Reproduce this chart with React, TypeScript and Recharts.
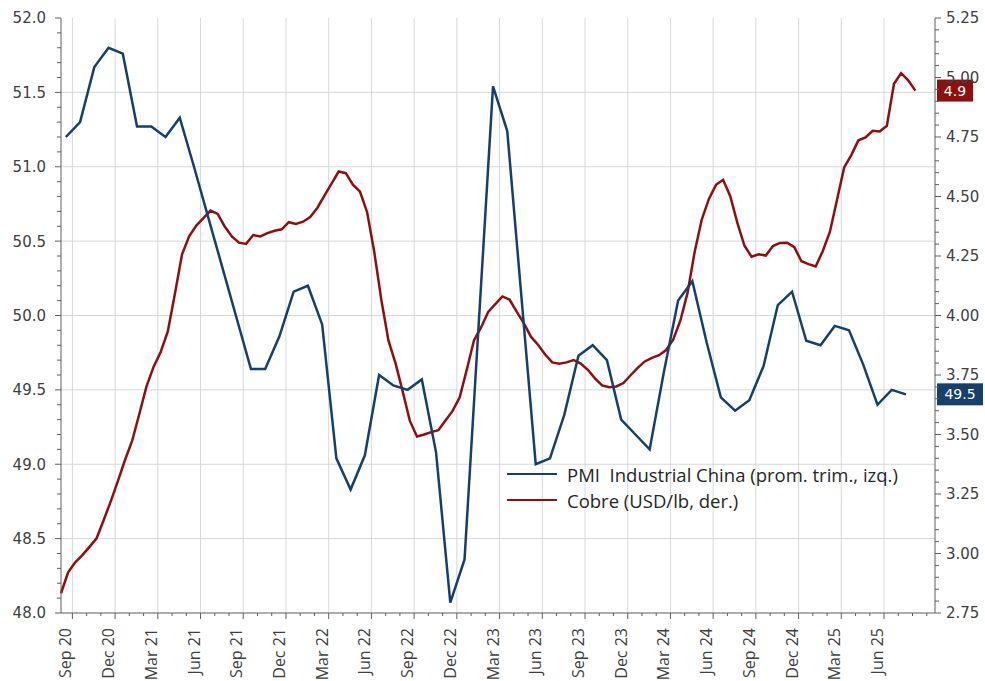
import React from 'react';
import { CartesianGrid, Legend, Line, LineChart, XAxis, YAxis } from 'recharts';

// x axis: months counted from Sep 2020
const tickLabels = [
  'Sep 20', 'Dec 20', 'Mar 21', 'Jun 21', 'Sep 21', 'Dec 21', 'Mar 22', 'Jun 22', 'Sep 22', 'Dec 22',
  'Mar 23', 'Jun 23', 'Sep 23', 'Dec 23', 'Mar 24', 'Jun 24', 'Sep 24', 'Dec 24', 'Mar 25', 'Jun 25',
];

// PMI industrial China, 3-month average, monthly
const pmiStart = -0.46;
const pmiValues = [
  51.2, 51.3, 51.67, 51.8, 51.76, 51.27, 51.27, 51.2, 51.33, 51.0,
  50.66, 50.32, 49.98, 49.64, 49.64, 49.86, 50.16, 50.2, 49.94, 49.04,
  48.83, 49.06, 49.6, 49.53, 49.5, 49.57, 49.08, 48.07, 48.36, 49.95,
  51.54, 51.24, 50.12, 49.0, 49.04, 49.33, 49.73, 49.8, 49.7, 49.3,
  49.2, 49.1, 49.62, 50.1, 50.23, 49.82, 49.45, 49.36, 49.43, 49.66,
  50.07, 50.16, 49.83, 49.8, 49.93, 49.9, 49.67, 49.4, 49.5, 49.47,
];

// Copper USD/lb, semi-monthly
const copperStart = -0.8;
const copperStep = 0.5;
const copperValues = [
  2.833, 2.921, 2.963, 2.993, 3.028, 3.064, 3.141, 3.22, 3.305, 3.394,
  3.474, 3.586, 3.701, 3.784, 3.847, 3.933, 4.091, 4.257, 4.333, 4.378,
  4.409, 4.441, 4.427, 4.374, 4.332, 4.306, 4.301, 4.338, 4.332, 4.346,
  4.356, 4.362, 4.392, 4.385, 4.394, 4.414, 4.452, 4.504, 4.554, 4.605,
  4.598, 4.55, 4.52, 4.434, 4.267, 4.064, 3.894, 3.798, 3.68, 3.557,
  3.492, 3.5, 3.51, 3.518, 3.559, 3.599, 3.656, 3.773, 3.895, 3.95,
  4.015, 4.048, 4.08, 4.067, 4.016, 3.968, 3.911, 3.877, 3.836, 3.803,
  3.797, 3.803, 3.813, 3.798, 3.772, 3.736, 3.706, 3.699, 3.702, 3.716,
  3.749, 3.78, 3.807, 3.822, 3.833, 3.855, 3.899, 3.979, 4.095, 4.267,
  4.403, 4.49, 4.549, 4.57, 4.501, 4.389, 4.293, 4.247, 4.257, 4.252,
  4.292, 4.305, 4.306, 4.287, 4.228, 4.216, 4.206, 4.271, 4.352, 4.486,
  4.622, 4.674, 4.736, 4.748, 4.776, 4.773, 4.797, 4.974, 5.018, 4.988,
  4.945,
];

const leftMajor = [48, 48.5, 49, 49.5, 50, 50.5, 51, 51.5, 52];
const rightMajor = [2.75, 3, 3.25, 3.5, 3.75, 4, 4.25, 4.5, 4.75, 5, 5.25];

const pmiName = 'PMI  Industrial China (prom. trim., izq.)';
const copperName = 'Cobre (USD/lb, der.)';

const BLUE = '#173f6b';
const RED = '#8c1010';
const AXIS = '#5f5f5f';
const GRID = '#d4d9dd';
const TEXT = '#404040';

const pmiData = pmiValues.map((v, i) => ({ x: pmiStart + i, pmi: v }));
const copperData = copperValues.map((v, i) => ({ x: copperStart + i * copperStep, cu: v }));

const monthTicks = Array.from({ length: 61 }, (_, i) => i);
const majorMonths = tickLabels.map((_, i) => i * 3);
const leftTicks = Array.from({ length: 41 }, (_, i) => Math.round((48 + i * 0.1) * 10) / 10);
const rightTicks = Array.from({ length: 51 }, (_, i) => Math.round((2.75 + i * 0.05) * 100) / 100);

const isOn = (v: number, list: number[]) => list.some((m) => Math.abs(m - v) < 1e-6);

const XTick = ({ x, y, payload }: any) => {
  const m = payload.value;
  const idx = majorMonths.indexOf(m);
  const major = idx >= 0;
  return (
    <g>
      <line x1={x} x2={x} y1={y} y2={y + (major ? 6 : 3)} stroke={AXIS} />
      {major && (
        <text
          x={x}
          y={y + 15}
          dy={-1}
          transform={`rotate(-90 ${x} ${y + 15})`}
          textAnchor="end"
          fontFamily="Open Sans"
          fontSize={16}
          fill={TEXT}
        >
          {tickLabels[idx]}
        </text>
      )}
    </g>
  );
};

const LeftTick = ({ x, y, payload }: any) => {
  const major = isOn(payload.value, leftMajor);
  return (
    <g>
      <line x1={x - (major ? 6 : 4)} x2={x} y1={y} y2={y} stroke={AXIS} />
      {major && (
        <text x={x - 15} y={y} dy="0.36em" textAnchor="end" fontFamily="DejaVu Sans" fontSize={15} fill={TEXT}>
          {payload.value.toFixed(1)}
        </text>
      )}
    </g>
  );
};

const RightTick = ({ x, y, payload }: any) => {
  const major = isOn(payload.value, rightMajor);
  return (
    <g>
      <line x1={x} x2={x + (major ? 6 : 4)} y1={y} y2={y} stroke={AXIS} />
      {major && (
        <text x={x + 11} y={y} dy="0.36em" textAnchor="start" fontFamily="DejaVu Sans" fontSize={15} fill={TEXT}>
          {payload.value.toFixed(2)}
        </text>
      )}
    </g>
  );
};

// value box on the right of the last point
const endBox = (count: number, color: string, width: number) => (props: any) => {
  const { cy, index, value, key } = props;
  if (index !== count - 1) return <g key={key ?? index} />;
  const v = Array.isArray(value) ? value[1] : value;
  return (
    <g key={key ?? index}>
      <rect x={937} y={cy - 11} width={width} height={22} fill={color} />
      <text x={937 + width / 2} y={cy} dy="0.36em" textAnchor="middle" fontFamily="DejaVu Sans" fontSize={14} fill="#fff">
        {Number(v).toFixed(1)}
      </text>
    </g>
  );
};

const LegendBox = () => (
  <div style={{ fontFamily: 'Open Sans', fontSize: 18.5, color: '#262626' }}>
    {[
      { name: pmiName, color: BLUE },
      { name: copperName, color: RED },
    ].map((it) => (
      <div key={it.name} style={{ display: 'flex', alignItems: 'center', height: 26 }}>
        <span style={{ display: 'inline-block', width: 50, height: 2.5, background: it.color, marginLeft: 2, marginRight: 10 }} />
        <span style={{ whiteSpace: 'pre' }}>{it.name}</span>
      </div>
    ))}
  </div>
);

export default function App() {
  return (
    <div style={{ position: 'absolute', left: 0, top: 0, width: 985, height: 681, background: '#fff' }}>
      <LineChart width={985} height={681} margin={{ top: 18, right: 0, bottom: 0, left: 0 }}>
        <CartesianGrid
          stroke={GRID}
          yAxisId="left"
          horizontalValues={[48.5, 49, 49.5, 50, 50.5, 51, 51.5]}
          verticalValues={majorMonths}
        />
        <XAxis
          dataKey="x"
          type="number"
          domain={[-0.79, 60.58]}
          ticks={monthTicks}
          interval={0}
          height={68}
          tickSize={0}
          tickMargin={0}
          tickLine={false}
          axisLine={{ stroke: AXIS }}
          tick={(p: any) => <XTick {...p} />}
        />
        <YAxis
          yAxisId="left"
          orientation="left"
          domain={[48, 52]}
          ticks={leftTicks}
          interval={0}
          width={61}
          tickSize={0}
          tickMargin={0}
          tickLine={false}
          axisLine={{ stroke: AXIS }}
          tick={(p: any) => <LeftTick {...p} />}
        />
        <YAxis
          yAxisId="right"
          orientation="right"
          domain={[2.75, 5.25]}
          ticks={rightTicks}
          interval={0}
          width={50}
          tickSize={0}
          tickMargin={0}
          tickLine={false}
          axisLine={{ stroke: AXIS }}
          tick={(p: any) => <RightTick {...p} />}
        />
        <Legend
          layout="vertical"
          align="center"
          verticalAlign="middle"
          wrapperStyle={{ left: 505, top: 461, width: 440 }}
          content={() => <LegendBox />}
        />
        <Line
          yAxisId="right"
          data={copperData}
          dataKey="cu"
          name={copperName}
          stroke={RED}
          strokeWidth={2.5}
          type="linear"
          dot={endBox(copperData.length, RED, 36)}
          activeDot={false}
          isAnimationActive={false}
        />
        <Line
          yAxisId="left"
          data={pmiData}
          dataKey="pmi"
          name={pmiName}
          stroke={BLUE}
          strokeWidth={2.5}
          type="linear"
          dot={endBox(pmiData.length, BLUE, 46)}
          activeDot={false}
          isAnimationActive={false}
        />
      </LineChart>
    </div>
  );
}
